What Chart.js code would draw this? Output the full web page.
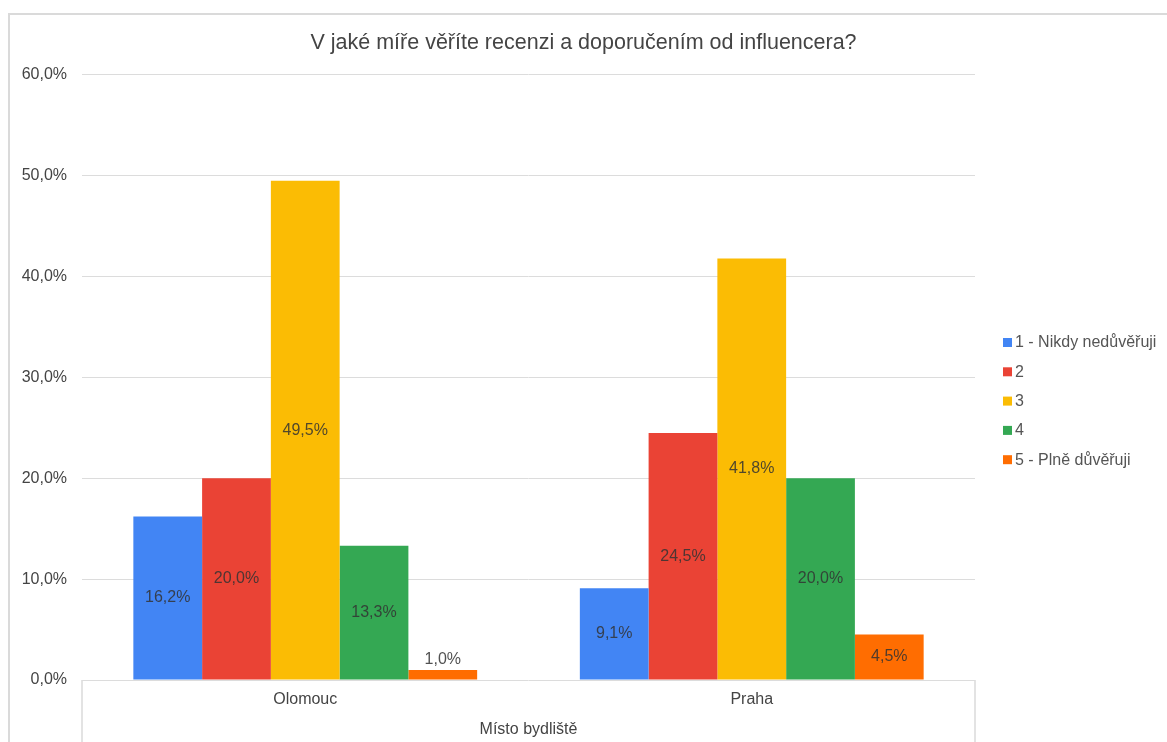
<!DOCTYPE html>
<html>
<head>
<meta charset="utf-8">
<script src="https://cdn.jsdelivr.net/npm/chart.js@4"></script>
<style>
  html, body { margin: 0; padding: 0; background: #fff; }
  #wrap { width: 1167px; height: 742px; position: relative; }
</style>
</head>
<body>
<div id="wrap"><canvas id="c" width="1167" height="742"></canvas></div>
<script>
const categories = ["Olomouc", "Praha"];
const seriesLabels = ["1 - Nikdy nedůvěřuji", "2", "3", "4", "5 - Plně důvěřuji"];
const s1 = [16.2, 9.1];
const s2 = [20.0, 24.5];
const s3 = [49.5, 41.8];
const s4 = [13.3, 20.0];
const s5 = [1.0, 4.5];
const seriesColors = ["#4285F4", "#EA4335", "#FBBC04", "#34A853", "#FF6D01"];
const yTicks = [0, 10, 20, 30, 40, 50, 60];
const titleText = "V jaké míře věříte recenzi a doporučením od influencera?";
const xTitle = "Místo bydliště";

const FONT = "'Liberation Sans', Arial, sans-serif";
const fmt = v => v.toFixed(1).replace('.', ',') + '%';

const seriesValues = [s1, s2, s3, s4, s5];

const framePlugin = {
  id: 'frame',
  beforeDraw(chart) {
    const ctx = chart.ctx;
    const a = chart.chartArea;
    ctx.save();
    ctx.strokeStyle = '#dadada';
    ctx.lineWidth = 2;
    ctx.beginPath();
    ctx.moveTo(9, chart.height);
    ctx.lineTo(9, 14);
    ctx.lineTo(chart.width, 14);
    ctx.stroke();
    ctx.lineWidth = 1.5;
    ctx.beginPath();
    ctx.moveTo(a.left, chart.height);
    ctx.lineTo(a.left, a.bottom);
    ctx.moveTo(a.right, a.bottom);
    ctx.lineTo(a.right, chart.height);
    ctx.stroke();
    ctx.restore();
  },
  afterDatasetsDraw(chart) {
    const ctx = chart.ctx;
    ctx.save();
    ctx.font = "16px " + FONT;
    ctx.fillStyle = 'rgba(50,50,50,0.85)';
    ctx.textAlign = 'center';
    ctx.textBaseline = 'middle';
    chart.data.datasets.forEach((ds, di) => {
      const meta = chart.getDatasetMeta(di);
      meta.data.forEach((bar, i) => {
        const v = ds.data[i];
        const h = bar.base - bar.y;
        let y = (bar.y + bar.base) / 2;
        if (h < 20) y = bar.y - 10;
        ctx.fillText(fmt(v), bar.x, y);
      });
    });
    const lx = 1003, ly0 = 342, step = 29.3;
    ctx.textAlign = 'left';
    chart.data.datasets.forEach((ds, di) => {
      const y = ly0 + di * step;
      ctx.fillStyle = ds.backgroundColor;
      ctx.fillRect(lx, y - 4, 9, 9);
      ctx.fillStyle = '#555';
      ctx.fillText(ds.label, lx + 12, y + 1);
    });
    ctx.restore();
  }
};

new Chart(document.getElementById('c'), {
  type: 'bar',
  data: {
    labels: categories,
    datasets: seriesLabels.map((l, i) => ({
      label: l,
      data: seriesValues[i],
      backgroundColor: seriesColors[i],
      borderWidth: 0,
      barPercentage: 1.0,
      categoryPercentage: 0.77
    }))
  },
  options: {
    responsive: false,
    animation: false,
    devicePixelRatio: 1,
    layout: { padding: 0 },
    plugins: {
      legend: { display: false },
      tooltip: { enabled: false },
      title: {
        display: true,
        text: titleText,
        color: '#444',
        font: { family: FONT, size: 21.5, weight: 'normal' },
        padding: { top: 30, bottom: 19 }
      }
    },
    scales: {
      x: {
        grid: { display: false, drawTicks: false },
        border: { display: false },
        ticks: { color: '#444', font: { family: FONT, size: 16 }, padding: 10 },
        title: { display: true, text: xTitle, color: '#444', font: { family: FONT, size: 16 }, padding: { top: 4, bottom: 3 } },
        afterFit: s => { s.height = 62; }
      },
      y: {
        min: 0, max: 60,
        afterBuildTicks: s => { s.ticks = yTicks.map(v => ({ value: v })); },
        grid: { color: '#dcdcdc', lineWidth: 1, drawTicks: false },
        border: { display: false },
        ticks: { color: '#444', font: { family: FONT, size: 16 }, padding: 15, callback: v => fmt(v) },
        afterFit: s => { s.width = 82; }
      },
      legendSpace: {
        type: 'linear',
        position: 'right',
        display: true,
        grid: { display: false, drawTicks: false },
        border: { display: false },
        ticks: { display: false },
        afterFit: s => { s.width = 192; }
      }
    }
  },
  plugins: [framePlugin]
});
</script>
</body>
</html>
